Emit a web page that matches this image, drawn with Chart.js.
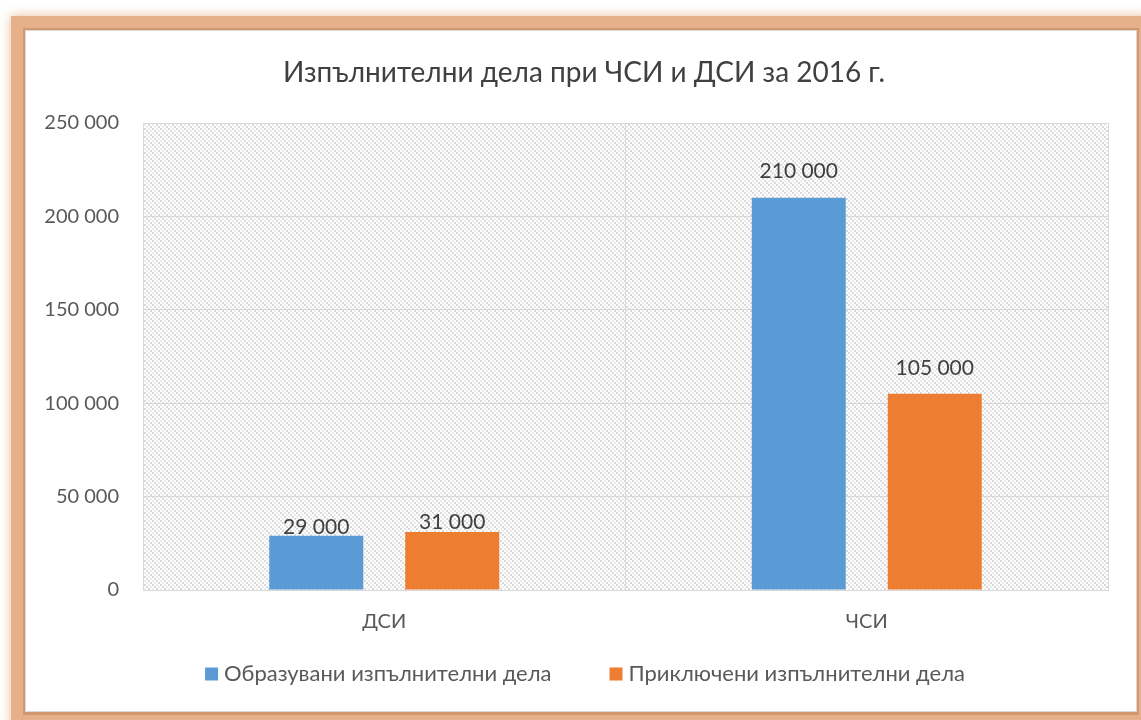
<!DOCTYPE html>
<html>
<head>
<meta charset="utf-8">
<script src="https://cdn.jsdelivr.net/npm/chart.js@4.4.0/dist/chart.umd.min.js"></script>
<style>
  html, body { margin: 0; padding: 0; background: #fff; }
  #wrap { width: 1141px; height: 720px; position: relative; }
</style>
</head>
<body>
<div id="wrap"><canvas id="chart" width="1141" height="720"></canvas></div>
<script>
const chartTitle = "Изпълнителни дела при ЧСИ и ДСИ за 2016 г.";
const categories = ["ДСИ", "ЧСИ"];
const seriesNames = ["Образувани изпълнителни дела", "Приключени изпълнителни дела"];
const opened = [29000, 210000];
const closed = [31000, 105000];
const yTicks = [0, 50000, 100000, 150000, 200000, 250000];

const FONT = "Lato";
const fmt = (v) => String(v).replace(/\B(?=(\d{3})+(?!\d))/g, " ");

// hatch pattern for the plot area: 2px dots along "\" diagonals
function makeHatch() {
  const c = document.createElement("canvas");
  c.width = 8; c.height = 8;
  const g = c.getContext("2d");
  g.fillStyle = "#fff";
  g.fillRect(0, 0, 8, 8);
  g.fillStyle = "#d9d9d9";
  for (let by = 0; by < 4; by++) {
    for (let bx = 0; bx < 4; bx++) {
      if ((bx - by + 4) % 4 === 0) g.fillRect(bx * 2, by * 2, 2, 2);
    }
  }
  g.fillStyle = "#ececec";
  for (let by = 0; by < 4; by++) {
    for (let bx = 0; bx < 4; bx++) {
      if ((bx - by + 4) % 4 === 2) g.fillRect(bx * 2, by * 2, 2, 2);
    }
  }
  return c;
}

// frame + hatched background
const backgroundPlugin = {
  id: "background",
  beforeDraw: (chart) => {
    const ctx = chart.ctx;
    const a = chart.chartArea;
    ctx.save();
    ctx.fillStyle = "#fff";
    ctx.fillRect(0, 0, chart.width, chart.height);
    ctx.shadowColor = "rgba(225,160,110,0.7)";
    ctx.shadowBlur = 12;
    ctx.strokeStyle = "#e6b08a";
    ctx.lineWidth = 14;
    ctx.strokeRect(18, 23, 1126, 696);
    ctx.shadowBlur = 0;
    ctx.strokeStyle = "#d39870";
    ctx.lineWidth = 3;
    ctx.strokeRect(24.5, 29.5, 1113, 684);
    ctx.strokeStyle = "#d9d9d9";
    ctx.lineWidth = 1;
    ctx.strokeRect(25.5, 30.5, 1111, 681);
    ctx.fillStyle = "#fff";
    ctx.fillRect(26, 31, 1110, 680);
    ctx.fillStyle = ctx.createPattern(makeHatch(), "repeat");
    ctx.fillRect(a.left, a.top, a.right - a.left, a.bottom - a.top);
    ctx.restore();
  }
};

// title, data labels and legend
const textPlugin = {
  id: "texts",
  afterDatasetsDraw: (chart) => {
    const ctx = chart.ctx;
    ctx.save();
    ctx.textBaseline = "middle";

    ctx.font = "28px " + FONT;
    ctx.fillStyle = "#404040";
    ctx.textAlign = "center";
    ctx.fillText(chartTitle, 584, 73);

    ctx.font = "21px " + FONT;
    chart.data.datasets.forEach((ds, i) => {
      chart.getDatasetMeta(i).data.forEach((bar, j) => {
        const h = bar.base - bar.y;
        const off = Math.min(26, h / 6);
        ctx.fillText(fmt(ds.data[j]), bar.x, bar.y - off);
      });
    });

    // legend
    ctx.font = "22px " + FONT;
    ctx.textAlign = "left";
    const box = 13, gapBox = 6, gapItem = 58;
    const widths = chart.data.datasets.map(ds => box + gapBox + ctx.measureText(ds.label).width);
    const total = widths.reduce((s, w) => s + w, 0) + gapItem * (widths.length - 1);
    let x = 585 - total / 2;
    const y = 674;
    chart.data.datasets.forEach((ds, i) => {
      ctx.fillStyle = ds.backgroundColor;
      ctx.fillRect(x, y - box / 2, box, box);
      ctx.fillStyle = "#595959";
      ctx.fillText(ds.label, x + box + gapBox, y);
      x += widths[i] + gapItem;
    });
    ctx.restore();
  }
};

new Chart(document.getElementById("chart"), {
  type: "bar",
  data: {
    labels: categories,
    datasets: [
      { label: seriesNames[0], data: opened, backgroundColor: "#5b9bd5" },
      { label: seriesNames[1], data: closed, backgroundColor: "#ed7d31" }
    ]
  },
  options: {
    responsive: false,
    animation: false,
    categoryPercentage: 0.5637,
    barPercentage: 0.691,
    layout: { padding: { left: 30, right: 33, top: 123, bottom: 0 } },
    plugins: {
      title: { display: false },
      legend: { display: false },
      tooltip: { enabled: false }
    },
    scales: {
      x: {
        grid: { color: "#d9d9d9", drawTicks: false },
        border: { color: "#d9d9d9" },
        ticks: { color: "#595959", font: { family: FONT, size: 20 }, padding: 20 },
        afterFit: (s) => { s.height = 130; }
      },
      y: {
        min: 0,
        max: 250000,
        afterBuildTicks: (s) => { s.ticks = yTicks.map(v => ({ value: v })); },
        grid: { color: "#d9d9d9", drawTicks: false },
        border: { color: "#d9d9d9" },
        ticks: { color: "#595959", font: { family: FONT, size: 20 }, padding: 24, callback: (v) => fmt(v) },
        afterFit: (s) => { s.width = 113; }
      }
    }
  },
  plugins: [backgroundPlugin, textPlugin]
});
</script>
</body>
</html>
